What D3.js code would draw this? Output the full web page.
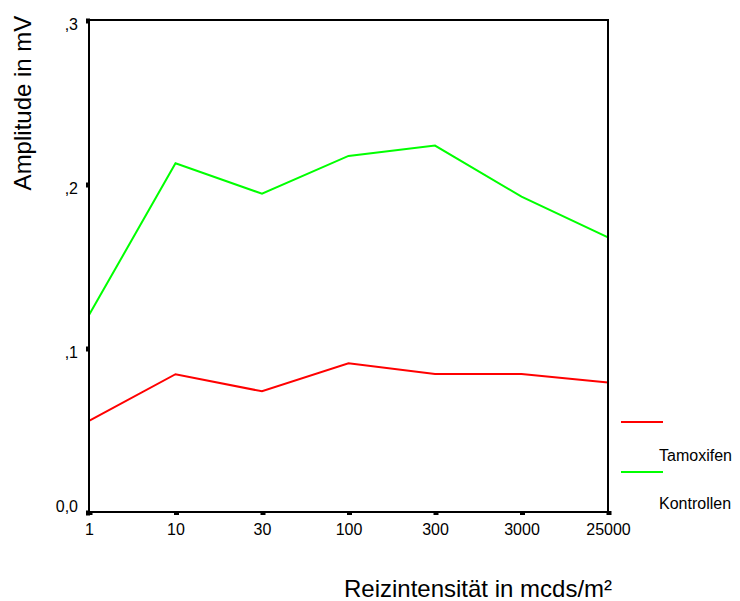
<!DOCTYPE html>
<html>
<head>
<meta charset="utf-8">
<script src="https://cdn.jsdelivr.net/npm/d3@7"></script>
<style>
  html, body { margin: 0; padding: 0; background: #fff; }
  svg { display: block; font-family: Arial, "Liberation Sans", sans-serif; }
</style>
</head>
<body>
<svg id="chart" width="740" height="601"></svg>
<script>
// Stimulus intensities (mcds/m²) on a categorical axis
const categories = ["1", "10", "30", "100", "300", "3000", "25000"];
// Mean amplitudes in mV
const tamoxifen  = [0.0555, 0.0840, 0.0736, 0.0907, 0.0841, 0.0841, 0.0789];
const kontrollen = [0.1201, 0.2126, 0.1941, 0.2171, 0.2234, 0.1923, 0.1675];
const seriesNames = ["Tamoxifen", "Kontrollen"];
const seriesColors = ["#ff0000", "#00ff00"];
const yTickValues = [0, 0.1, 0.2, 0.3];
const yTickLabels = ["0,0", ",1", ",2", ",3"];

const svg = d3.select("#chart");
const plot = { left: 89, right: 608, top: 20, bottom: 512 };
const fontFamily = "Arial, 'Liberation Sans', sans-serif";

const x = d3.scalePoint().domain(categories).range([plot.left, plot.right]).padding(0);
const y = d3.scaleLinear().domain([0, 0.3]).range([plot.bottom, plot.top]);

// Data lines
const line = d3.line()
  .x((d, i) => x(categories[i]))
  .y(d => y(d));

[tamoxifen, kontrollen].forEach((vals, k) => {
  svg.append("path")
    .datum(vals)
    .attr("d", line)
    .attr("fill", "none")
    .attr("stroke", seriesColors[k])
    .attr("stroke-width", 2)
    .attr("stroke-linejoin", "miter");
});

// Frame
svg.append("rect")
  .attr("x", plot.left).attr("y", plot.top)
  .attr("width", plot.right - plot.left).attr("height", plot.bottom - plot.top)
  .attr("fill", "none").attr("stroke", "#000").attr("stroke-width", 2);

// X axis: small square tick markers and labels
const xAxis = d3.axisBottom(x).tickSize(0).tickPadding(12);
const gx = svg.append("g").attr("transform", `translate(0,${plot.bottom})`).call(xAxis);
gx.attr("font-size", 16).attr("font-family", fontFamily);
gx.select(".domain").remove();
gx.selectAll(".tick text").attr("fill", "#000").attr("dy", "0.68em");
gx.selectAll(".tick").append("rect")
  .attr("x", -2).attr("y", -1).attr("width", 5).attr("height", 4).attr("fill", "#000");

// Y axis
const yAxis = d3.axisLeft(y).tickValues(yTickValues)
  .tickFormat((d, i) => yTickLabels[i]).tickSize(0).tickPadding(11);
const gy = svg.append("g").attr("transform", `translate(${plot.left},0)`).call(yAxis);
gy.attr("font-size", 16).attr("font-family", fontFamily);
gy.select(".domain").remove();
gy.selectAll(".tick text").attr("fill", "#000")
  .attr("dy", d => d === 0 ? "-0.05em" : "0.6em");
gy.selectAll(".tick").append("rect")
  .attr("x", -3).attr("y", -2).attr("width", 4).attr("height", 5).attr("fill", "#000");

// Axis titles
svg.append("text")
  .attr("x", 478).attr("y", 597)
  .attr("text-anchor", "middle").attr("font-size", 24).attr("fill", "#000")
  .text("Reizintensität in mcds/m²");

svg.append("text")
  .attr("transform", "translate(31,103) rotate(-90)")
  .attr("text-anchor", "middle").attr("font-size", 24).attr("fill", "#000")
  .text("Amplitude in mV");

// Legend
const legend = svg.append("g");
seriesNames.forEach((name, k) => {
  const ly = 422 + k * 50;
  legend.append("line")
    .attr("x1", 621).attr("x2", 663).attr("y1", ly).attr("y2", ly)
    .attr("stroke", seriesColors[k]).attr("stroke-width", 2);
  legend.append("text")
    .attr("x", 659).attr("y", 461 + k * 48)
    .attr("font-size", 16).attr("fill", "#000")
    .text(name);
});
</script>
</body>
</html>
